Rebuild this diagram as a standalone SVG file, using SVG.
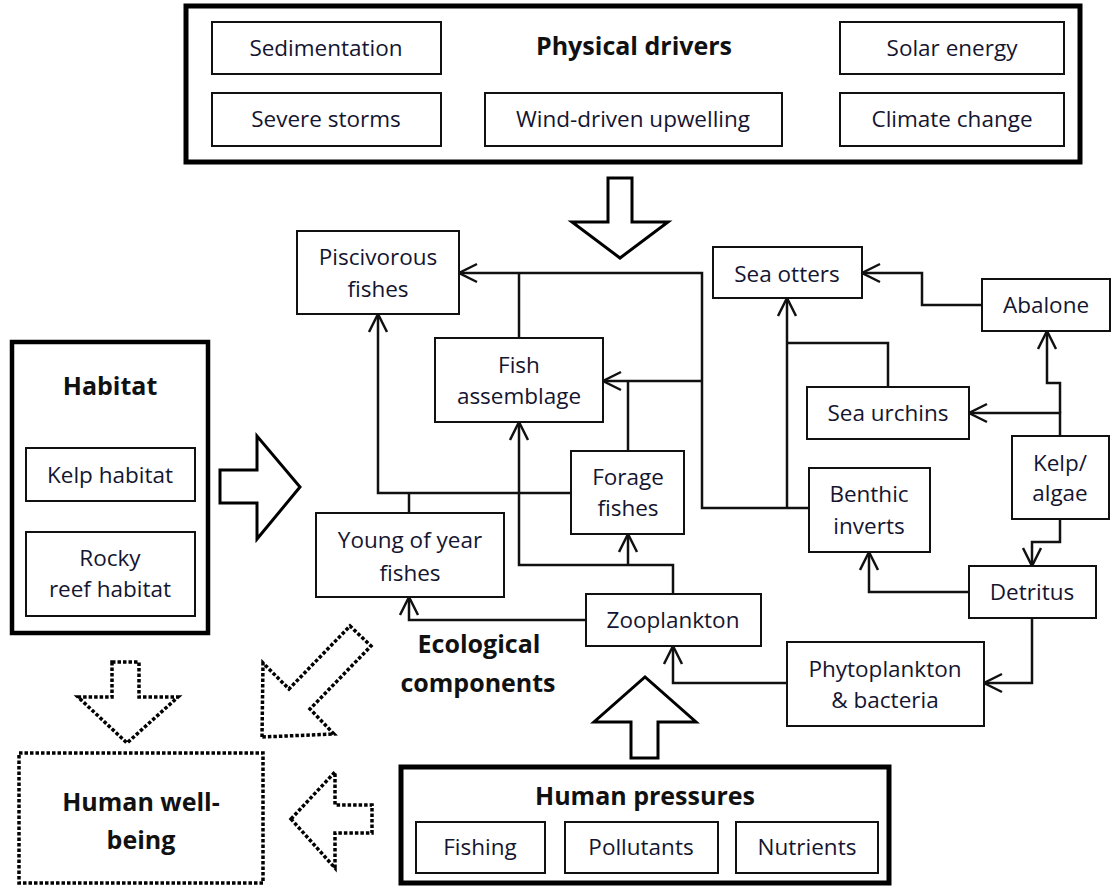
<svg xmlns="http://www.w3.org/2000/svg" width="1112" height="886" viewBox="0 0 1112 886">
<defs>
<style>
.bx{fill:#fff;stroke:#111;stroke-width:2}
.outer{fill:#fff;stroke:#000;stroke-width:5}
.t{font-family:"Open Sans","Liberation Sans",sans-serif;font-size:22.5px;fill:#151530;text-anchor:middle}
.b{font-family:"Open Sans","Liberation Sans",sans-serif;font-size:25px;font-weight:bold;fill:#111;text-anchor:middle}
.c{fill:none;stroke:#111;stroke-width:2.5}
.big{fill:#fff;stroke:#000;stroke-width:3;stroke-linejoin:miter}
.dot{fill:#fff;stroke:#000;stroke-width:3.5;stroke-dasharray:3.5 2}
</style>
<marker id="ah" markerUnits="userSpaceOnUse" markerWidth="24" markerHeight="24" refX="20" refY="12" orient="auto">
<path d="M2,3 L20,12 L2,21" fill="none" stroke="#111" stroke-width="2.5"/>
</marker>
</defs>
<rect width="1112" height="886" fill="#fff"/>

<g id="physical-drivers">
<rect class="outer" x="186" y="6" width="894" height="156"/>
<text class="b" x="634" y="55">Physical drivers</text>
<rect class="bx" x="212" y="22" width="229" height="52"/><text class="t" x="326" y="56">Sedimentation</text>
<rect class="bx" x="212" y="93" width="229" height="53"/><text class="t" x="326" y="127">Severe storms</text>
<rect class="bx" x="485" y="93" width="297" height="53"/><text class="t" x="633" y="127">Wind-driven upwelling</text>
<rect class="bx" x="840" y="22" width="224" height="52"/><text class="t" x="952" y="56">Solar energy</text>
<rect class="bx" x="840" y="93" width="224" height="53"/><text class="t" x="952" y="127">Climate change</text>
</g>

<g id="habitat">
<rect x="12" y="342" width="196" height="291" fill="#fff" stroke="#000" stroke-width="4.5"/>
<text class="b" x="110" y="395">Habitat</text>
<rect class="bx" x="26" y="448" width="169" height="53"/><text class="t" x="110" y="483">Kelp habitat</text>
<rect class="bx" x="26" y="532" width="169" height="84"/><text class="t" x="110" y="566">Rocky</text><text class="t" x="110" y="597">reef habitat</text>
</g>

<g id="human-pressures">
<rect class="outer" x="401" y="767" width="488" height="116"/>
<text class="b" x="645" y="805">Human pressures</text>
<rect class="bx" x="416" y="822" width="129" height="51"/><text class="t" x="480" y="855">Fishing</text>
<rect class="bx" x="565" y="822" width="153" height="51"/><text class="t" x="641" y="855">Pollutants</text>
<rect class="bx" x="736" y="822" width="142" height="51"/><text class="t" x="807" y="855">Nutrients</text>
</g>

<g id="human-well-being">
<rect class="dot" x="19" y="753" width="244" height="130"/>
<text class="b" x="141" y="811">Human well-</text>
<text class="b" x="141" y="849">being</text>
</g>

<g id="ecological-label">
<text class="b" x="479" y="653">Ecological</text>
<text class="b" x="478" y="692">components</text>
</g>

<g id="big-arrows">
<polygon class="big" points="608,178 632,178 632,222 668,222 620,258 572,222 608,222"/>
<polygon class="big" points="220,470 257,470 257,436 300,487 257,539 257,503 220,503"/>
<polygon class="big" points="631,758 658,758 658,722 696,722 645,677 594,722 631,722"/>
<polygon class="dot" points="112,662 139,662 139,697 178,697 127,743 78,697 112,697"/>
<polygon class="dot" points="262,737 263,663 289,689 350,626 371,646 310,709 334,734"/>
<polygon class="dot" points="291,819 335,772 335,805 372,805 372,833 335,833 335,868"/>
</g>

<g id="connectors">
<path class="c" d="M809,508 H702 V273 H459" marker-end="url(#ah)"/>
<path class="c" d="M519,338 V273"/>
<path class="c" d="M702,381 H603" marker-end="url(#ah)"/>
<path class="c" d="M628,451 V381"/>
<path class="c" d="M571,493 H378 V314" marker-end="url(#ah)"/>
<path class="c" d="M409,513 V493"/>
<path class="c" d="M673,594 V565 H519 V422" marker-end="url(#ah)"/>
<path class="c" d="M628,565 V534" marker-end="url(#ah)"/>
<path class="c" d="M586,620 H409 V597" marker-end="url(#ah)"/>
<path class="c" d="M787,683 H673 V646" marker-end="url(#ah)"/>
<path class="c" d="M1032,618 V683 H984" marker-end="url(#ah)"/>
<path class="c" d="M969,592 H869 V552" marker-end="url(#ah)"/>
<path class="c" d="M1060,519 V542 H1032 V566" marker-end="url(#ah)"/>
<path class="c" d="M1060,436 V413 H969" marker-end="url(#ah)"/>
<path class="c" d="M1060,413 V383 H1047 V331" marker-end="url(#ah)"/>
<path class="c" d="M982,305 H922 V273 H862" marker-end="url(#ah)"/>
<path class="c" d="M787,508 V298" marker-end="url(#ah)"/>
<path class="c" d="M888,387 V343 H787"/>
</g>

<g id="piscivorous-fishes"><rect class="bx" x="297" y="231" width="162" height="83"/><text class="t" x="378" y="265">Piscivorous</text><text class="t" x="378" y="297">fishes</text></g>
<g id="fish-assemblage"><rect class="bx" x="435" y="338" width="168" height="84"/><text class="t" x="519" y="373">Fish</text><text class="t" x="519" y="404">assemblage</text></g>
<g id="forage-fishes"><rect class="bx" x="571" y="451" width="113" height="83"/><text class="t" x="628" y="485">Forage</text><text class="t" x="628" y="516">fishes</text></g>
<g id="young-of-year-fishes"><rect class="bx" x="316" y="513" width="188" height="84"/><text class="t" x="410" y="548">Young of year</text><text class="t" x="410" y="581">fishes</text></g>
<g id="zooplankton"><rect class="bx" x="586" y="594" width="175" height="52"/><text class="t" x="673" y="628">Zooplankton</text></g>
<g id="phytoplankton"><rect class="bx" x="787" y="642" width="197" height="84"/><text class="t" x="885" y="677">Phytoplankton</text><text class="t" x="885" y="708">&amp; bacteria</text></g>
<g id="detritus"><rect class="bx" x="969" y="566" width="127" height="52"/><text class="t" x="1032" y="600">Detritus</text></g>
<g id="benthic-inverts"><rect class="bx" x="809" y="468" width="121" height="84"/><text class="t" x="869" y="502">Benthic</text><text class="t" x="869" y="534">inverts</text></g>
<g id="sea-otters"><rect class="bx" x="713" y="247" width="149" height="51"/><text class="t" x="787" y="282">Sea otters</text></g>
<g id="abalone"><rect class="bx" x="982" y="279" width="128" height="52"/><text class="t" x="1046" y="313">Abalone</text></g>
<g id="sea-urchins"><rect class="bx" x="807" y="387" width="162" height="52"/><text class="t" x="888" y="421">Sea urchins</text></g>
<g id="kelp-algae"><rect class="bx" x="1012" y="436" width="97" height="83"/><text class="t" x="1060" y="471">Kelp/</text><text class="t" x="1060" y="501">algae</text></g>
</svg>
